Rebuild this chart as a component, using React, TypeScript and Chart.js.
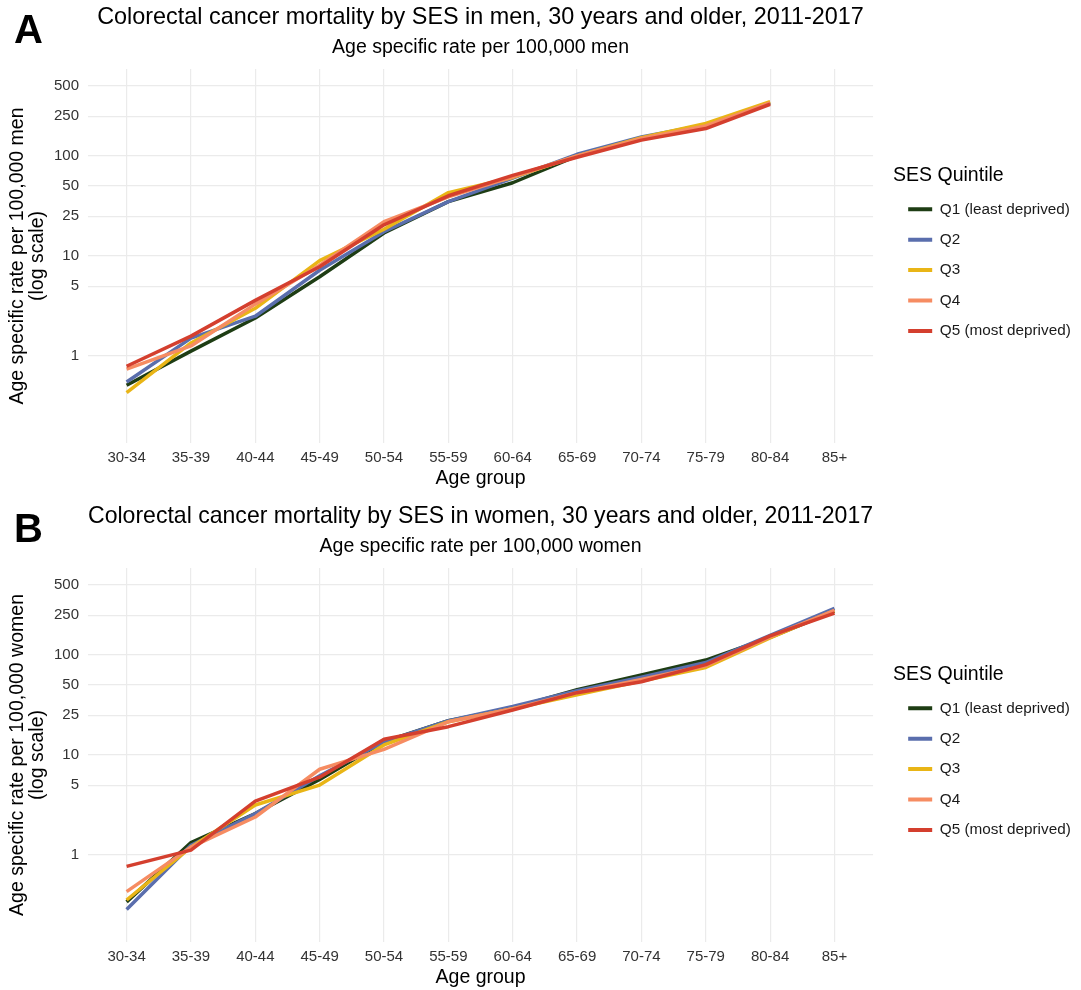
import React, { useEffect, useRef } from 'react';
import { Chart, registerables } from 'chart.js';

Chart.register(...registerables);

// ---------- data ----------
const ageGroups = ['30-34', '35-39', '40-44', '45-49', '50-54', '55-59', '60-64', '65-69', '70-74', '75-79', '80-84', '85+'];
const quintileLabels = ['Q1 (least deprived)', 'Q2', 'Q3', 'Q4', 'Q5 (most deprived)'];
const quintileColors = ['#1E3D14', '#5A6EAD', '#E9B516', '#F68C62', '#D43F2E'];
const yTickValues = [1, 5, 10, 25, 50, 100, 250, 500];

const menQ1 = [0.51, 1.12, 2.4, 6.2, 17, 35, 54, 100, 150, 205, 340, null];
const menQ2 = [0.55, 1.51, 2.5, 7.2, 17.5, 35, 60, 104, 155, 205, 340, null];
const menQ3 = [0.43, 1.35, 3.0, 9.0, 18.5, 43, 61, 100, 152, 212, 349, null];
const menQ4 = [0.74, 1.26, 3.3, 8.1, 22, 39, 62, 100, 150, 200, 340, null];
const menQ5 = [0.79, 1.58, 3.6, 7.8, 20.5, 40, 64, 97, 144, 188, 329, null];

const womenQ1 = [0.34, 1.33, 2.6, 5.7, 13.6, 22, 29.5, 45, 63, 89, 150, 275];
const womenQ2 = [0.285, 1.25, 2.6, 6.2, 13.5, 22, 30.5, 44, 60, 84, 157, 293];
const womenQ3 = [0.355, 1.2, 3.16, 5.0, 12.6, 21.5, 29, 40, 55, 75, 148, 278];
const womenQ4 = [0.43, 1.2, 2.4, 7.2, 11.4, 21.5, 29, 42, 57, 78, 152, 280];
const womenQ5 = [0.77, 1.12, 3.45, 6.0, 14.4, 19.2, 28.2, 42, 54, 80, 155, 262];

const FONT = "'Liberation Sans', Arial, Helvetica, sans-serif";
const GRID = '#EBEBEB';
const TICK_COLOR = '#333333';

function makeConfig(series: (number | null)[][], sex: string): any {
  const datasets = series.map((vals, i) => ({
    label: quintileLabels[i],
    data: vals.map((v, j) => ({ x: j, y: v })),
    borderColor: quintileColors[i],
    backgroundColor: quintileColors[i],
    borderWidth: 3.5,
    pointRadius: 0,
    pointHoverRadius: 0,
    tension: 0,
    spanGaps: false,
    borderJoinStyle: 'round',
    order: series.length - 1 - i,
  }));
  return {
    type: 'line',
    data: { datasets },
    options: {
      animation: false,
      responsive: true,
      maintainAspectRatio: false,
      layout: { padding: { top: 0, right: 9.3, bottom: 0, left: 0 } },
      plugins: {
        tooltip: { enabled: false },
        title: {
          display: true,
          text: `Colorectal cancer mortality by SES in ${sex}, 30 years and older, 2011-2017`,
          fullSize: false,
          color: '#000',
          font: { family: FONT, size: 23.4, weight: 'normal', lineHeight: 1.2 },
          padding: { top: 3.8, bottom: 0 },
        },
        subtitle: {
          display: true,
          text: `Age specific rate per 100,000 ${sex}`,
          fullSize: false,
          color: '#000',
          font: { family: FONT, size: 19.5, weight: 'normal', lineHeight: 1.2 },
          padding: { top: 4.4, bottom: 9.3 },
        },
        legend: {
          display: true,
          position: 'right',
          align: 'center',
          title: {
            display: true,
            text: 'SES Quintile',
            position: 'start',
            color: '#000',
            font: { family: FONT, size: 19.5, lineHeight: 1.0 },
            padding: { top: 24.6, bottom: 1.1 },
          },
          labels: {
            boxWidth: 24,
            boxHeight: 4,
            padding: 15.1,
            color: '#1a1a1a',
            font: { family: FONT, size: 15.3 },
            sort: (a: any, b: any) => a.datasetIndex - b.datasetIndex,
            generateLabels: (chart: any) =>
              chart.data.datasets.map((ds: any, i: number) => ({
                text: ds.label,
                fillStyle: ds.borderColor,
                strokeStyle: ds.borderColor,
                lineWidth: 0,
                hidden: false,
                datasetIndex: i,
                fontColor: '#1a1a1a',
              })),
          },
        },
      },
      scales: {
        x: {
          type: 'linear',
          min: -0.6,
          max: ageGroups.length - 1 + 0.6,
          afterBuildTicks: (s: any) => {
            s.ticks = ageGroups.map((_, i) => ({ value: i }));
          },
          afterFit: (s: any) => {
            s.height = 52;
          },
          grid: { color: GRID, lineWidth: 1.2, drawTicks: false },
          border: { display: false },
          ticks: {
            autoSkip: false,
            maxRotation: 0,
            padding: 6,
            color: TICK_COLOR,
            font: { family: FONT, size: 15 },
            callback: (v: any) => ageGroups[v] ?? '',
          },
          title: {
            display: true,
            text: 'Age group',
            color: '#000',
            font: { family: FONT, size: 19.5, lineHeight: 1.2 },
            padding: { top: 0, bottom: 4.3 },
          },
        },
        y: {
          type: 'logarithmic',
          position: 'left',
          min: 0.135,
          max: 741,
          afterBuildTicks: (s: any) => {
            s.ticks = yTickValues.map((v) => ({ value: v }));
          },
          afterFit: (s: any) => {
            s.width = 88;
          },
          grid: { color: GRID, lineWidth: 1.2, drawTicks: false },
          border: { display: false },
          ticks: {
            padding: 9,
            color: TICK_COLOR,
            font: { family: FONT, size: 15 },
            callback: (v: any) => String(v),
          },
          title: {
            display: true,
            text: [`Age specific rate per 100,000 ${sex}`, '(log scale)'],
            color: '#000',
            font: { family: FONT, size: 19.5, lineHeight: 20 / 19.5 },
            padding: { top: 8, bottom: 0 },
          },
        },
        y2: {
          type: 'linear',
          position: 'right',
          display: true,
          grid: { display: false, drawTicks: false },
          border: { display: false },
          ticks: { display: false },
          afterFit: (s: any) => {
            s.width = 20;
          },
        },
      },
    },
  };
}

function ChartPanel({ config, top }: { config: any; top: number }) {
  const ref = useRef<HTMLCanvasElement>(null);
  useEffect(() => {
    const chart = new Chart(ref.current as HTMLCanvasElement, config);
    return () => chart.destroy();
  }, []);
  return (
    <div style={{ position: 'absolute', left: 0, top, width: 1081, height: 495 }}>
      <canvas ref={ref} />
    </div>
  );
}

const letterStyle: React.CSSProperties = {
  position: 'absolute',
  left: 14,
  fontFamily: FONT,
  fontWeight: 'bold',
  fontSize: 40,
  lineHeight: 1,
  color: '#000',
};

export default function App() {
  return (
    <div
      style={{
        position: 'absolute',
        left: 0,
        top: 0,
        width: 1081,
        height: 990,
        overflow: 'hidden',
        background: '#fff',
      }}
    >
      <ChartPanel config={makeConfig([menQ1, menQ2, menQ3, menQ4, menQ5], 'men')} top={0} />
      <ChartPanel config={makeConfig([womenQ1, womenQ2, womenQ3, womenQ4, womenQ5], 'women')} top={499} />
      <div style={{ ...letterStyle, top: 9 }}>A</div>
      <div style={{ ...letterStyle, top: 508 }}>B</div>
    </div>
  );
}
